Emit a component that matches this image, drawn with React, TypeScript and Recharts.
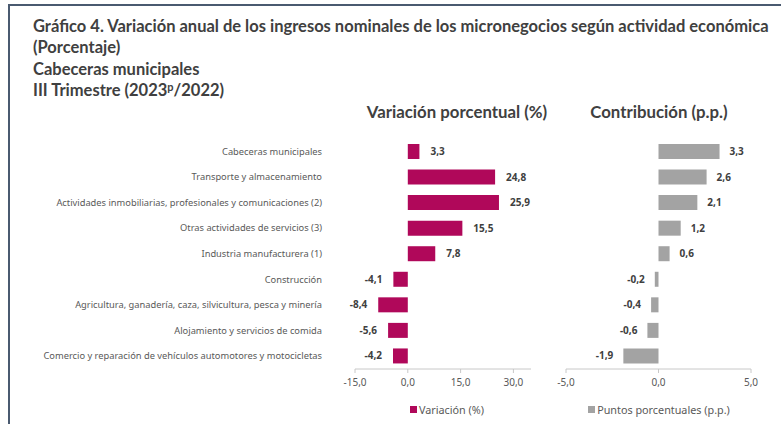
import { Bar, BarChart, LabelList, Legend, XAxis, YAxis } from 'recharts'

const categories = [
  'Cabeceras municipales',
  'Transporte y almacenamiento',
  'Actividades inmobiliarias, profesionales y comunicaciones (2)',
  'Otras actividades de servicios (3)',
  'Industria manufacturera (1)',
  'Construcción',
  'Agricultura, ganadería, caza, silvicultura, pesca y minería',
  'Alojamiento y servicios de comida',
  'Comercio y reparación de vehículos automotores y motocicletas',
]
const variacion = [3.3, 24.8, 25.9, 15.5, 7.8, -4.1, -8.4, -5.6, -4.2]
const contribucion = [3.3, 2.6, 2.1, 1.2, 0.6, -0.2, -0.4, -0.6, -1.9]
const variacionTicks = [-15, 0, 15, 30]
const contribucionTicks = [-5, 0, 5]

const data = categories.map((name, i) => ({ name, variacion: variacion[i], contribucion: contribucion[i] }))

const fmt = (v: number) => v.toFixed(1).replace('.', ',')

const FONT = 'Lato, "Noto Sans", sans-serif'
const SMALL = '"Noto Sans", "Open Sans", sans-serif'
const TEXT = '#404040'
const MAGENTA = '#b0085a'
const GRAY = '#a3a3a3'

function LegendBox({ color, label }: { color: string; label: string }) {
  return (
    <div style={{ display: 'flex', justifyContent: 'center', alignItems: 'center', fontFamily: SMALL, fontSize: 10.8, color: '#595959', height: 20 }}>
      <span style={{ width: 7, height: 7, background: color, marginRight: 2, display: 'inline-block' }} />
      {label}
    </div>
  )
}

// category labels on one line, right-aligned
function CategoryTick({ x, y, payload }: any) {
  return (
    <text x={x - 25} y={y} dy={3} textAnchor="end" fontSize={9.3} fill="#595959" fontFamily={SMALL}>
      {payload.value}
    </text>
  )
}

export default function App() {
  return (
    <div style={{ position: 'absolute', left: 0, top: 0, width: 781, height: 424, background: '#fff', overflow: 'hidden' }}>
      {/* frame */}
      <div style={{ position: 'absolute', left: 8, top: 4, width: 773, height: 2, background: '#4a5a70' }} />
      <div style={{ position: 'absolute', left: 8, top: 4, width: 2, height: 420, background: '#4a5a70' }} />

      <div style={{ position: 'absolute', left: 33, top: 16, fontFamily: FONT, fontWeight: 700, fontSize: 16.5, lineHeight: '21.3px', color: TEXT, whiteSpace: 'nowrap' }}>
        <div>Gráfico 4. Variación anual de los ingresos nominales de los micronegocios según actividad económica</div>
        <div>(Porcentaje)</div>
        <div>Cabeceras municipales</div>
        <div>
          III Trimestre (2023<span style={{ fontSize: 11, position: 'relative', top: -5 }}>p</span>/2022)
        </div>
      </div>

      <div style={{ position: 'absolute', left: 357, width: 200, top: 101, textAlign: 'center', fontFamily: FONT, fontWeight: 700, fontSize: 16.8, color: TEXT }}>
        Variación porcentual (%)
      </div>
      <div style={{ position: 'absolute', left: 559, width: 200, top: 101, textAlign: 'center', fontFamily: FONT, fontWeight: 700, fontSize: 16.8, color: TEXT }}>
        Contribución (p.p.)
      </div>

      <div style={{ position: 'absolute', left: 0, top: 0 }}>
        <BarChart layout="vertical" width={545} height={424} data={data} margin={{ top: 139, right: 14, bottom: 0, left: 0 }}>
          <XAxis
            type="number"
            domain={[-15, 35]}
            ticks={variacionTicks}
            tickFormatter={fmt}
            height={30}
            axisLine={{ stroke: '#c8c8c8' }}
            tickLine={{ stroke: '#c8c8c8' }}
            tickSize={4}
            tickMargin={6}
            tick={{ fontSize: 10, fill: '#595959', fontFamily: SMALL }}
          />
          <YAxis type="category" dataKey="name" width={355} axisLine={false} tickLine={false} tick={<CategoryTick />} />
          <Legend verticalAlign="bottom" height={25} content={() => <LegendBox color={MAGENTA} label="Variación (%)" />} wrapperStyle={{ left: 355, width: 184 }} />
          <Bar dataKey="variacion" name="Variación (%)" fill={MAGENTA} barSize={15} isAnimationActive={false}>
            <LabelList dataKey="variacion" position="right" offset={11} formatter={(v: any) => fmt(Number(v))} style={{ fontSize: 10, fontWeight: 700, fill: TEXT, fontFamily: SMALL }} />
          </Bar>
        </BarChart>
      </div>

      <div style={{ position: 'absolute', left: 545, top: 0 }}>
        <BarChart layout="vertical" width={236} height={424} data={data} margin={{ top: 139, right: 30, bottom: 0, left: 21 }}>
          <XAxis
            type="number"
            domain={[-5, 5]}
            ticks={contribucionTicks}
            tickFormatter={fmt}
            height={30}
            axisLine={{ stroke: '#c8c8c8' }}
            tickLine={{ stroke: '#c8c8c8' }}
            tickSize={4}
            tickMargin={6}
            tick={{ fontSize: 10, fill: '#595959', fontFamily: SMALL }}
          />
          <YAxis type="category" dataKey="name" hide />
          <Legend verticalAlign="bottom" height={25} content={() => <LegendBox color={GRAY} label="Puntos porcentuales (p.p.)" />} wrapperStyle={{ left: 0, width: 228 }} />
          <Bar dataKey="contribucion" name="Puntos porcentuales (p.p.)" fill={GRAY} barSize={15} isAnimationActive={false}>
            <LabelList dataKey="contribucion" position="right" offset={10} formatter={(v: any) => fmt(Number(v))} style={{ fontSize: 10, fontWeight: 700, fill: TEXT, fontFamily: SMALL }} />
          </Bar>
        </BarChart>
      </div>
    </div>
  )
}
